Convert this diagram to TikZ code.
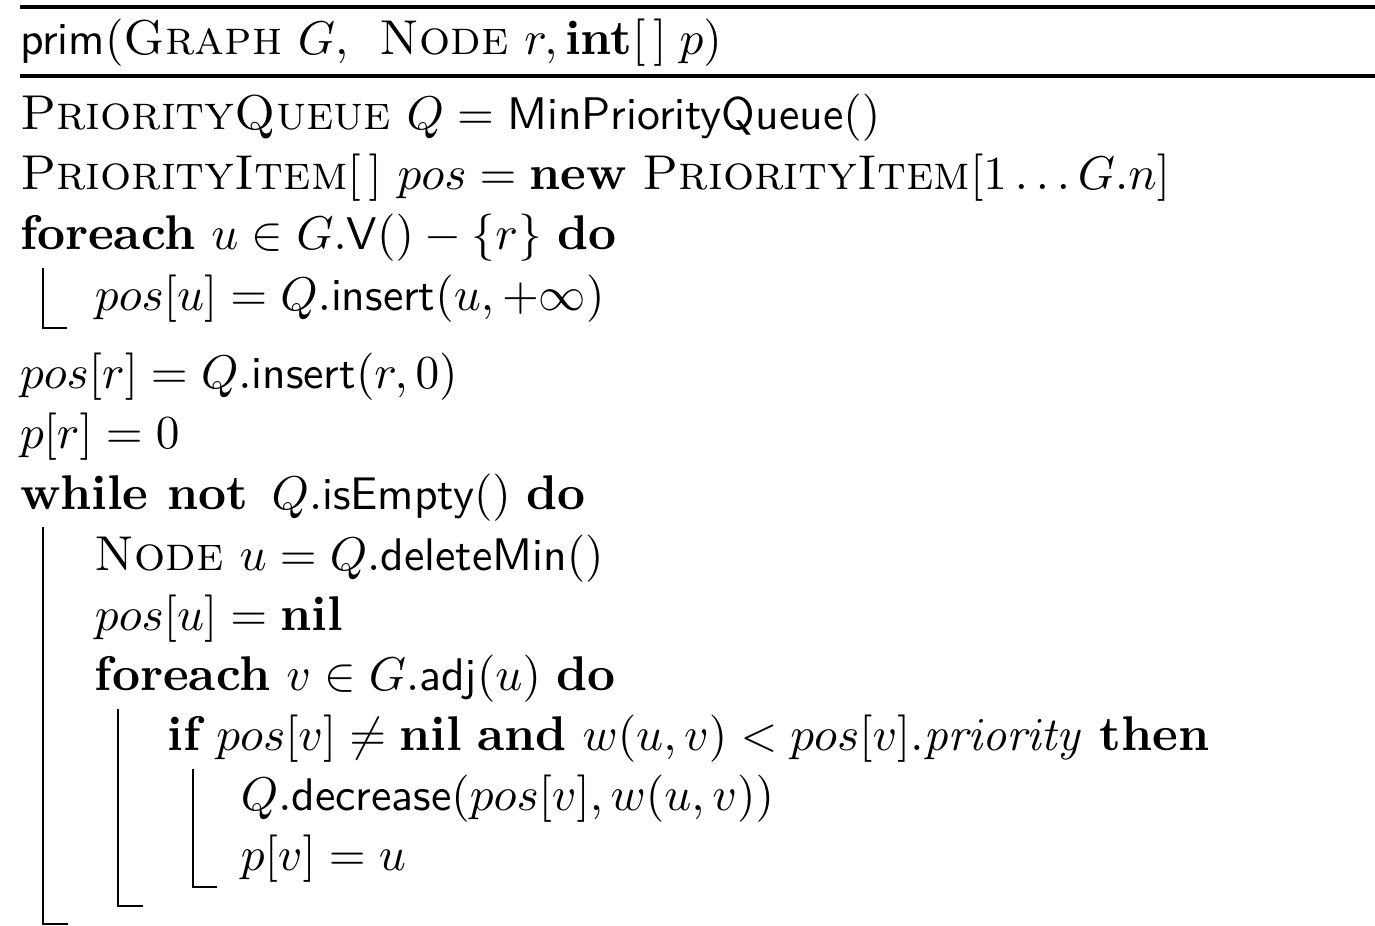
\RequirePackage{fix-cm}
\documentclass[tikz,border=0pt]{standalone}
\usepackage{amsmath,amssymb}
\newcommand{\kwd}[1]{{\fontsize{10.5}{12}\selectfont\bfseries #1}}
\newcommand{\typ}[1]{{\fontsize{10.55}{12}\selectfont\scshape #1}}
\newcommand{\fn}[1]{\text{\fontsize{9.85}{12}\selectfont\sffamily #1}}
\begin{document}
\begin{tikzpicture}[x=0.2155pt,y=-0.2155pt,
  txt/.style={anchor=base west,inner sep=0pt,outer sep=0pt,font=\fontsize{10.2}{12}\selectfont},
  heavyrule/.style={line width=0.7pt},
  blockbar/.style={line width=0.4pt}]
\useasboundingbox (0,0) rectangle (1375,926);
% rules
\coordinate (r1a) at (20,7);   \coordinate (r1b) at (1375,7);
\coordinate (r2a) at (20,76);  \coordinate (r2b) at (1375,76);
\draw[heavyrule] (r1a) -- (r1b);
\draw[heavyrule] (r2a) -- (r2b);
% header
\node[txt] (hdr) at (20,54) {\fn{prim}$($\typ{Graph} $G,$\ \ \typ{Node} $r, \text{\kwd{int}}[\,]\;p)$};
% body
\node[txt] (l1) at (20,129) {\typ{PriorityQueue} $Q=\fn{MinPriorityQueue}()$};
\node[txt] (l2) at (20,189) {\typ{PriorityItem}$[\,]$ $pos=\text{\kwd{new}}$ \typ{PriorityItem}$[1\ldots G.n]$};
\node[txt] (l3) at (20,249) {\kwd{foreach} $u\in G.\fn{V}()-\{r\}$ \kwd{do}};
\node[txt] (l4) at (95,310) {$pos[u]=Q.\fn{insert}(u,+\infty)$};
\node[txt] (l5) at (20,388) {$pos[r]=Q.\fn{insert}(r,0)$};
\node[txt] (l6) at (20,448) {$p[r]=0$};
\node[txt] (l7) at (20,509) {\kwd{while not}\ \,$Q.\fn{isEmpty}()$ \kwd{do}};
\node[txt] (l8) at (95,570) {\typ{Node} $u=Q.\fn{deleteMin}()$};
\node[txt] (l9) at (95,630) {$pos[u]=\text{\kwd{nil}}$};
\node[txt] (l10) at (95,690) {\kwd{foreach} $v\in G.\fn{adj}(u)$ \kwd{do}};
\node[txt] (l11) at (168,750) {\kwd{if} $pos[v]\neq\text{\kwd{nil}}$ \kwd{and} $w(u,v)<pos[v].\mathit{priority}$ \kwd{then}};
\node[txt] (l12) at (241,810) {$Q.\fn{decrease}(pos[v],w(u,v))$};
\node[txt] (l13) at (241,870) {$p[v]=u$};
% block bars
\coordinate (b1s) at (43,268); \coordinate (b1e) at (67,328);
\coordinate (b2s) at (43,527); \coordinate (b2e) at (68,924);
\coordinate (b3s) at (118,709); \coordinate (b3e) at (143,906);
\coordinate (b4s) at (193,769); \coordinate (b4e) at (217,887);
\draw[blockbar] (b1s) |- (b1e);
\draw[blockbar] (b2s) |- (b2e);
\draw[blockbar] (b3s) |- (b3e);
\draw[blockbar] (b4s) |- (b4e);
\end{tikzpicture}
\end{document}
